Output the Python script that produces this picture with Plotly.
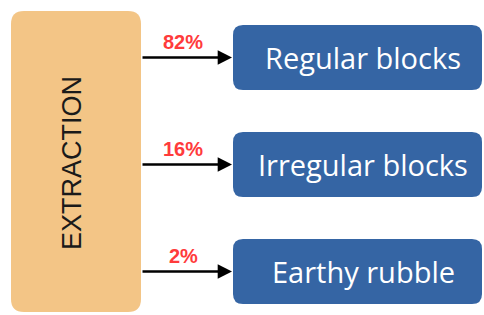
import plotly.graph_objects as go

# ---- data ----
source_label = "EXTRACTION"
categories = ["Regular blocks", "Irregular blocks", "Earthy rubble"]
shares = [82, 16, 2]  # percent

# ---- styling / layout ----
W, H = 484, 315
ORANGE = "#F3C586"
BLUE = "#3565A4"
RED = "#FF3B3B"

src_x0, src_x1, src_y0, src_y1 = 11, 141, 11, 312
box_x0, box_x1 = 233, 482
box_h = 65
row_c0, row_step = 57.5, 107
arrow_x0 = 141
label_x = 183
text_cx = 363


def rounded_rect(x0, y0, x1, y1, r):
    return (f"M {x0+r},{y0} L {x1-r},{y0} Q {x1},{y0} {x1},{y0+r} "
            f"L {x1},{y1-r} Q {x1},{y1} {x1-r},{y1} L {x0+r},{y1} "
            f"Q {x0},{y1} {x0},{y1-r} L {x0},{y0+r} Q {x0},{y0} {x0+r},{y0} Z")


fig = go.Figure()
shapes = [dict(type="path", path=rounded_rect(src_x0, src_y0, src_x1, src_y1, 13),
               xref="x", yref="y", fillcolor=ORANGE, line=dict(width=0), layer="below")]
annotations = [dict(x=72, y=163, xref="x", yref="y", text=source_label, showarrow=False,
                    textangle=-90, font=dict(family="Liberation Sans", size=27, color="#1a1a1a"))]

for i, (cat, s) in enumerate(zip(categories, shares)):
    yc = row_c0 + row_step * i
    shapes.append(dict(type="path",
                       path=rounded_rect(box_x0, yc - box_h / 2, box_x1, yc + box_h / 2, 10),
                       xref="x", yref="y", fillcolor=BLUE, line=dict(width=0), layer="below"))
    annotations.append(dict(x=text_cx, y=yc, xref="x", yref="y", text=cat, showarrow=False,
                            font=dict(family="Open Sans", size=29, color="white")))
    annotations.append(dict(x=box_x0 - 1, y=yc, ax=arrow_x0, ay=yc, xref="x", yref="y",
                            axref="x", ayref="y", text="", showarrow=True, arrowhead=2,
                            arrowsize=1.1, arrowwidth=2.6, arrowcolor="black", standoff=0))
    annotations.append(dict(x=label_x, y=yc - 16, xref="x", yref="y", text=f"<b>{s}%</b>",
                            showarrow=False,
                            font=dict(family="Liberation Sans", size=20, color=RED)))

fig.update_layout(
    width=W, height=H, margin=dict(l=0, r=0, t=0, b=0),
    paper_bgcolor="white", plot_bgcolor="white",
    xaxis=dict(range=[0, W], visible=False, fixedrange=True),
    yaxis=dict(range=[H, 0], visible=False, fixedrange=True),
    shapes=shapes, annotations=annotations, showlegend=False,
)
fig.write_html("out.html", config={"displayModeBar": False},
               post_script="document.body.style.margin='0';document.body.style.overflow='hidden';")
